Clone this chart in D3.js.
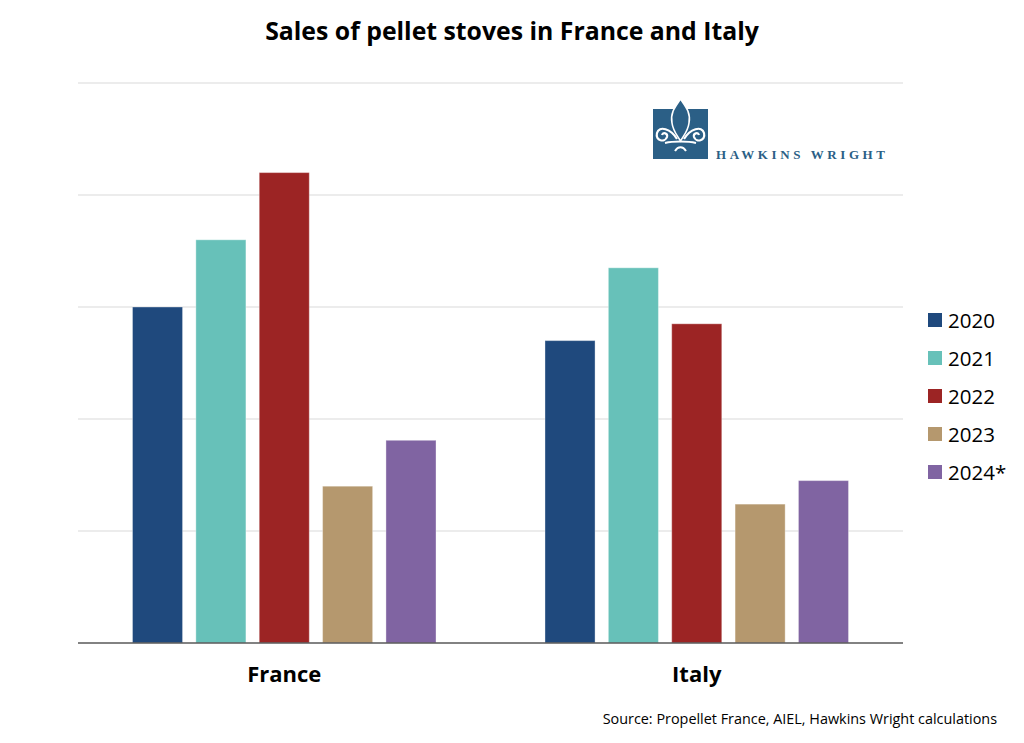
<!DOCTYPE html>
<html>
<head>
<meta charset="utf-8">
<script src="https://cdn.jsdelivr.net/npm/d3@7"></script>
<style>
  body { margin: 0; background: #fff; }
  svg { display: block; }
</style>
</head>
<body>
<div></div>
<script>
var width = 1024;
var height = 743;

// data (no axis labels in the original)
var countries = ["France", "Italy"];
var years = ["2020", "2021", "2022", "2023", "2024*"];
var france = [300, 360, 420, 140, 181];
var italy = [270, 335, 285, 124, 145];
var colors = ["#1f497d", "#67c1b9", "#9c2424", "#b5986e", "#8064a2"];
var gridTicks = [0, 100, 200, 300, 400, 500];

var series = { France: france, Italy: italy };

var margin = { top: 83, right: 121, bottom: 100, left: 78 };
var plotW = width - margin.left - margin.right;
var plotH = height - margin.top - margin.bottom;

var svg = d3.select("div")
	.append("svg")
	.attr("width", width)
	.attr("height", height);

svg.append("text")
	.attr("x", 512)
	.attr("y", 40)
	.attr("text-anchor", "middle")
	.attr("font-family", "'Open Sans', sans-serif")
	.attr("font-weight", "bold")
	.attr("font-size", 24.8)
	.attr("fill", "#000")
	.text("Sales of pellet stoves in France and Italy");

var g = svg.append("g")
	.attr("transform", "translate(" + margin.left + "," + margin.top + ")");

var x0 = d3.scaleBand()
	.domain(countries)
	.range([0, plotW])
	.padding(0);

var x1 = d3.scaleBand()
	.domain(years)
	.range([0, x0.bandwidth()])
	.paddingInner(0.21)
	.paddingOuter(0.86);

var y = d3.scaleLinear()
	.domain([0, 500])
	.range([plotH, 0]);

// gridlines
g.append("g")
	.selectAll("line")
	.data(gridTicks.slice(1))
	.enter()
	.append("line")
	.attr("x1", 0)
	.attr("x2", plotW)
	.attr("y1", d => y(d))
	.attr("y2", d => y(d))
	.attr("stroke", "#d9d9d9")
	.attr("stroke-width", 1);

// bars
var groups = g.append("g")
	.selectAll("g")
	.data(countries)
	.enter()
	.append("g")
	.attr("transform", c => "translate(" + x0(c) + ",0)");

groups.selectAll("rect")
	.data(c => series[c].map((v, i) => ({ year: years[i], value: v, i: i })))
	.enter()
	.append("rect")
	.attr("x", d => x1(d.year))
	.attr("width", x1.bandwidth())
	.attr("y", d => y(d.value))
	.attr("height", d => plotH - y(d.value))
	.attr("fill", d => colors[d.i])
	.attr("stroke", "rgba(255,255,255,0.35)")
	.attr("stroke-width", 1);

// baseline
g.append("line")
	.attr("x1", 0)
	.attr("x2", plotW)
	.attr("y1", plotH)
	.attr("y2", plotH)
	.attr("stroke", "#595959")
	.attr("stroke-width", 1.5);

// category labels
var xAxis = g.append("g")
	.attr("transform", "translate(0," + plotH + ")")
	.call(d3.axisBottom(x0).tickSize(0).tickPadding(23));
xAxis.select(".domain").remove();
xAxis.selectAll("text")
	.attr("font-family", "'Open Sans', sans-serif")
	.attr("font-weight", "bold")
	.attr("font-size", 22)
	.attr("fill", "#000");

// legend
var legend = svg.append("g")
	.attr("transform", "translate(928,320)");

var items = legend.selectAll("g")
	.data(years)
	.enter()
	.append("g")
	.attr("transform", (d, i) => "translate(0," + i * 38 + ")");

items.append("rect")
	.attr("x", 0)
	.attr("y", -7)
	.attr("width", 14)
	.attr("height", 14)
	.attr("fill", (d, i) => colors[i]);

items.append("text")
	.attr("x", 20)
	.attr("y", 7.5)
	.attr("font-family", "'Open Sans', sans-serif")
	.attr("font-size", 20.5)
	.attr("fill", "#000")
	.text(d => d);

// source note
svg.append("text")
	.attr("x", 997)
	.attr("y", 724)
	.attr("text-anchor", "end")
	.attr("font-family", "'Open Sans', sans-serif")
	.attr("font-size", 14.4)
	.attr("fill", "#000")
	.text("Source: Propellet France, AIEL, Hawkins Wright calculations");

// logo
var logoBlue = "#2b5f86";
var logo = svg.append("g").attr("transform", "translate(653,99)");

logo.append("rect")
	.attr("x", 0)
	.attr("y", 10)
	.attr("width", 55)
	.attr("height", 50)
	.attr("fill", logoBlue);

// central petal
logo.append("path")
	.attr("d", "M27.5,0 C22,8 17,14 19,24 C20,32 24,36 27.5,42 C31,36 35,32 36,24 C38,14 33,8 27.5,0 Z")
	.attr("fill", logoBlue)
	.attr("stroke", "#fff")
	.attr("stroke-width", 1.6);

// side curls
logo.append("path")
	.attr("d", "M24,40 C18,30 6,26 4,34 C2,42 12,44 14,38 C15,34 10,33 9,36")
	.attr("fill", "none")
	.attr("stroke", "#fff")
	.attr("stroke-width", 2.2);
logo.append("path")
	.attr("d", "M31,40 C37,30 49,26 51,34 C53,42 43,44 41,38 C40,34 45,33 46,36")
	.attr("fill", "none")
	.attr("stroke", "#fff")
	.attr("stroke-width", 2.2);

// band and base
logo.append("path")
	.attr("d", "M12,44 C20,42 35,42 43,44")
	.attr("fill", "none")
	.attr("stroke", "#fff")
	.attr("stroke-width", 2);
logo.append("path")
	.attr("d", "M22,52 C25,47 30,47 33,52")
	.attr("fill", "none")
	.attr("stroke", "#fff")
	.attr("stroke-width", 2);

svg.append("text")
	.attr("x", 716)
	.attr("y", 159)
	.attr("font-family", "'Liberation Serif', 'DejaVu Serif', serif")
	.attr("font-weight", "bold")
	.attr("font-size", 13)
	.attr("letter-spacing", 3.6)
	.attr("fill", logoBlue)
	.text("HAWKINS WRIGHT");
</script>
</body>
</html>
